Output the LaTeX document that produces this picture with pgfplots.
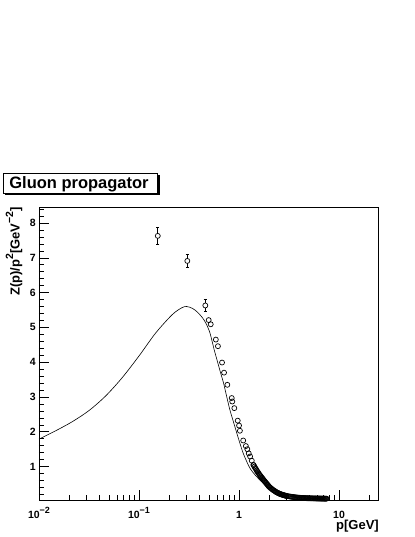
\documentclass[border=0pt]{standalone}
\usepackage{pgfplots}
\pgfplotsset{compat=1.18}
\usepackage{fontspec}
\setmainfont{Liberation Sans}
\newcommand\tsup[1]{\raisebox{0.45em}{\fontsize{9bp}{9bp}\selectfont\bfseries #1}}
\newcommand\lsup[1]{\raisebox{0.5em}{\fontsize{10.5bp}{10.5bp}\selectfont\bfseries #1}}

\pgfplotstableread{
x y
0.0100 1.79
0.0147 2.03
0.0215 2.29
0.0316 2.61
0.0464 3.03
0.0681 3.56
0.1000 4.18
0.1468 4.84
0.2154 5.37
0.2700 5.57
0.300 5.60
0.340 5.55
0.380 5.45
0.430 5.28
0.470 5.10
0.513 4.83
0.565 4.35
0.600 4.08
0.650 3.72
0.700 3.40
0.750 3.03
0.810 2.63
0.880 2.28
0.950 1.96
1.020 1.67
1.100 1.385
1.200 1.13
1.300 0.93
1.500 0.71
1.800 0.49
2.200 0.33
2.700 0.21
3.200 0.15
4.000 0.11
5.000 0.09
6.000 0.08
7.500 0.07
}\curve

\pgfplotstableread{
x y e
0.154 7.63 0.24
0.304 6.91 0.19
0.460 5.63 0.18
}\errpts

\pgfplotstableread{
x y
0.497 5.21
0.521 5.09
0.586 4.65
0.615 4.46
0.676 3.99
0.708 3.70
0.764 3.35
0.845 2.97
0.855 2.87
0.897 2.68
0.970 2.32
1.000 2.18
1.020 2.03
1.100 1.75
1.170 1.59
1.210 1.50
1.250 1.38
1.290 1.29
1.340 1.17
1.390 1.05
1.400 1.04
1.425 1.00
1.450 0.96
1.475 0.93
1.500 0.89
1.525 0.86
1.550 0.83
1.575 0.80
1.600 0.77
1.625 0.745
1.650 0.72
1.675 0.695
1.700 0.67
1.725 0.65
1.750 0.625
1.775 0.60
1.800 0.58
1.825 0.56
1.850 0.54
1.875 0.52
1.900 0.50
1.925 0.48
1.950 0.46
1.975 0.44
2.000 0.42
2.04 0.40
2.08 0.38
2.12 0.36
2.16 0.34
2.20 0.325
2.24 0.31
2.28 0.295
2.32 0.28
2.36 0.265
2.40 0.255
2.44 0.245
2.48 0.235
2.52 0.225
2.56 0.215
2.60 0.21
2.64 0.20
2.68 0.195
2.72 0.19
2.76 0.183
2.80 0.178
2.84 0.173
2.88 0.168
2.92 0.164
2.96 0.16
3.00 0.156
3.08 0.15
3.16 0.144
3.24 0.139
3.32 0.134
3.40 0.13
3.48 0.126
3.56 0.122
3.64 0.118
3.72 0.115
3.80 0.112
3.88 0.109
3.96 0.106
4.04 0.104
4.12 0.102
4.20 0.100
4.28 0.099
4.36 0.097
4.44 0.096
4.52 0.095
4.60 0.094
4.68 0.093
4.76 0.092
4.84 0.091
4.92 0.090
5.00 0.090
5.1 0.089
5.2 0.088
5.3 0.088
5.4 0.087
5.5 0.087
5.6 0.086
5.7 0.086
5.8 0.085
5.9 0.085
6.0 0.084
6.1 0.084
6.2 0.083
6.3 0.083
6.4 0.082
6.5 0.082
6.6 0.081
6.7 0.081
6.8 0.081
6.9 0.080
7.0 0.080
7.1 0.080
7.2 0.080
7.3 0.079
7.4 0.079
7.5 0.079
}\datapts

\begin{document}
\begin{tikzpicture}
\useasboundingbox[fill=white] (0bp,0bp) rectangle (415bp,537bp);
% title box with shadow
\fill[black] (5bp,342bp) rectangle (159.5bp,362bp);
\draw[fill=white, line width=0.8bp] (3bp,344bp) rectangle (157bp,364bp);
\node[anchor=base, inner sep=0pt, font=\bfseries\fontsize{16.5bp}{18bp}\selectfont] at (79bp,348bp) {Gluon propagator};

\begin{axis}[
  at={(39bp,37bp)}, anchor=south west,
  scale only axis, width=339bp, height=293bp,
  xmode=log, xmin=0.01, xmax=24.5,
  ymin=0.04, ymax=8.46,
  axis line style={line width=0.6bp},
  tick pos=left,
  tick align=inside,
  major tick length=10bp, minor tick length=5bp,
  every tick/.style={black, line width=0.6bp},
  xtick={0.01,0.1,1,10},
  xticklabels={10\tsup{−2},10\tsup{−1},1,10},
  minor xtick={0.02,0.03,0.04,0.05,0.06,0.07,0.08,0.09,0.2,0.3,0.4,0.5,0.6,0.7,0.8,0.9,2,3,4,5,6,7,8,9,20},
  ytick={1,2,3,4,5,6,7,8},
  yticklabels={1,2,3,4,5,6,7,8},
  minor ytick={0.2,0.4,0.6,0.8,1.2,1.4,1.6,1.8,2.2,2.4,2.6,2.8,3.2,3.4,3.6,3.8,4.2,4.4,4.6,4.8,5.2,5.4,5.6,5.8,6.2,6.4,6.6,6.8,7.2,7.4,7.6,7.8,8.2,8.4},
  xticklabel style={font=\bfseries\fontsize{10.5bp}{12bp}\selectfont, anchor=base, inner sep=0pt, yshift=-18bp},
  yticklabel style={font=\bfseries\fontsize{10.5bp}{12bp}\selectfont, anchor=east, inner sep=0pt, xshift=-3bp},
  xlabel={p[GeV]},
  xlabel style={at={(axis description cs:1,0)}, anchor=base east, inner sep=0pt, yshift=-29bp, xshift=1bp, font=\bfseries\fontsize{13bp}{15bp}\selectfont},
  ylabel={Z(p)/p\lsup{2}[GeV\lsup{−2}]},
  ylabel style={at={(axis description cs:-0.0575,1)}, anchor=base east, inner sep=0pt, font=\bfseries\fontsize{13bp}{15bp}\selectfont},
]
\addplot[black, line width=0.6bp, smooth, mark=none] table[x=x,y=y] {\curve};
\addplot[only marks, mark=o, mark size=2.5bp, mark options={black, line width=0.7bp}] table[x=x,y=y] {\datapts};
\addplot[only marks, mark=*, mark size=2.5bp, mark options={draw=black, fill=white, line width=0.7bp},
  error bars/.cd, y dir=both, y explicit,
  error bar style={black, line width=0.6bp},
  error mark options={black, rotate=90, mark size=1.6bp, line width=0.6bp}]
  table[x=x, y=y, y error=e] {\errpts};
\end{axis}
\end{tikzpicture}
\end{document}
